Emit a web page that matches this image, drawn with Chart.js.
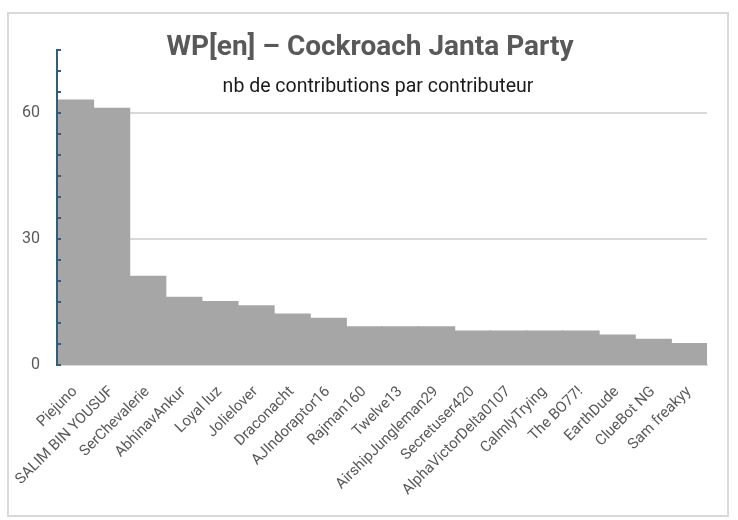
<!DOCTYPE html>
<html>
<head>
<meta charset="utf-8">
<script src="https://cdn.jsdelivr.net/npm/chart.js@4"></script>
<style>
  html, body { margin: 0; padding: 0; background: #fff; }
  #wrap { width: 738px; height: 520px; position: relative; }
</style>
</head>
<body>
<div id="wrap"><canvas id="barChart" width="738" height="520"></canvas></div>
<script>
const contributors = ['Piejuno', 'SALIM BIN YOUSUF', 'SerChevalerie', 'AbhinavAnkur', 'Loyal luz', 'Jolielover',
    'Draconacht', 'AJIndoraptor16', 'Rajman160', 'Twelve13', 'AirshipJungleman29', 'Secretuser420',
    'AlphaVictorDelta0107', 'CalmlyTrying', 'The BO77!', 'EarthDude', 'ClueBot NG', 'Sam freakyy'];
const contributions = [63, 61, 21, 16, 15, 14, 12, 11, 9, 9, 9, 8, 8, 8, 8, 7, 6, 5];
const yLabels = [0, 30, 60];

const chartTitle = 'WP[en] – Cockroach Janta Party';
const chartSubtitle = 'nb de contributions par contributeur';

// title, subtitle, inside y ticks and outer frame, drawn over the plot
const decorPlugin = {
    id: 'decor',
    afterDraw: function (chart) {
        const c = chart.ctx;
        const y = chart.scales.y;
        c.save();
        // small tick marks pointing into the plot
        c.strokeStyle = '#2e5f7e';
        c.lineWidth = 2;
        y.ticks.forEach(function (t) {
            const py = Math.round(y.getPixelForValue(t.value));
            c.beginPath();
            c.moveTo(y.right, py);
            c.lineTo(y.right + 4, py);
            c.stroke();
        });
        c.strokeStyle = '#d9d9d9';
        c.strokeRect(8, 13, 720, 503);
        c.textAlign = 'center';
        c.textBaseline = 'middle';
        c.fillStyle = '#595959';
        c.font = 'bold 28px Roboto';
        c.fillText(chartTitle, 370, 48);
        c.fillStyle = '#1a1a1a';
        c.font = '19.5px Roboto';
        c.fillText(chartSubtitle, 378, 87);
        c.restore();
    }
};

document.addEventListener('DOMContentLoaded', function () {
    const ctx = document.getElementById('barChart').getContext('2d');

    const config = {
        type: 'bar',
        data: {
            labels: contributors,
            datasets: [{
                label: 'Contributions',
                data: contributions,
                backgroundColor: '#a6a6a6',
                borderWidth: 0,
                inflateAmount: 1,
                categoryPercentage: 1.0,
                barPercentage: 1.0
            }]
        },
        options: {
            responsive: false,
            animation: false,
            layout: { padding: { top: 50, right: 31, left: 0, bottom: 0 } },
            scales: {
                x: {
                    grid: { display: false },
                    border: { color: '#d9d9d9', width: 2 },
                    ticks: {
                        color: '#595959',
                        font: { family: 'Roboto', size: 15 },
                        minRotation: 45,
                        maxRotation: 45,
                        autoSkip: false,
                        padding: 10
                    },
                    afterFit: function (scale) { scale.height = 155; }
                },
                y: {
                    min: 0,
                    max: 75,
                    border: { color: '#2e5f7e', width: 2, z: 1 },
                    grid: {
                        color: function (c) {
                            return (c.tick && c.tick.value > 0 && yLabels.includes(c.tick.value)) ? '#d9d9d9' : 'rgba(255,255,255,0)';
                        },
                        lineWidth: 2,
                        drawTicks: false
                    },
                    ticks: {
                        stepSize: 5,
                        autoSkip: false,
                        color: '#595959',
                        font: { family: 'Roboto', size: 16 },
                        padding: 17,
                        callback: function (v) { return yLabels.includes(v) ? v : ''; }
                    },
                    afterFit: function (scale) { scale.width = 57; }
                }
            },
            plugins: {
                legend: { display: false },
                tooltip: { enabled: false }
            }
        },
        plugins: [decorPlugin]
    };

    new Chart(ctx, config);
});
</script>
</body>
</html>
